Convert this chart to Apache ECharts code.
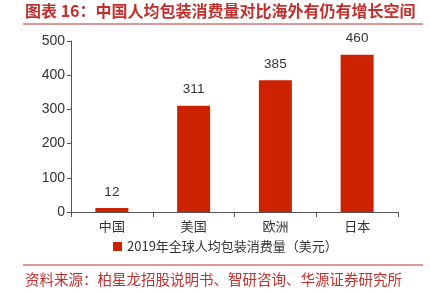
<!DOCTYPE html>
<html>
<head>
<meta charset="utf-8">
<script src="https://cdn.jsdelivr.net/npm/echarts@6/dist/echarts.min.js"></script>
<style>
  html, body { margin: 0; padding: 0; background: #fff; }
  #chart { width: 430px; height: 293px; }
</style>
</head>
<body>
<div id="chart"></div>
<script>
// 数据
const categories = ["中国", "美国", "欧洲", "日本"];
const values = [12, 311, 385, 460];
const seriesName = "2019年全球人均包装消费量（美元）";
const titleText = "图表 16：中国人均包装消费量对比海外有仍有增长空间";
const sourceText = "资料来源：柏星龙招股说明书、智研咨询、华源证券研究所";

const red = "#c0302f";
const barColor = "#cc2200";
const cjk = "'Noto Sans CJK SC', sans-serif";
const num = "Arial, 'Liberation Sans', sans-serif";

const chart = echarts.init(document.getElementById("chart"));

const option = {
  animation: false,
  backgroundColor: "#fff",
  graphic: [
    {
      type: "text",
      left: 25,
      top: 3,
      style: { text: titleText, fill: red, font: "bold 16px " + cjk }
    },
    {
      type: "line",
      shape: { x1: 23, y1: 24, x2: 423, y2: 24 },
      style: { stroke: red, lineWidth: 1.2 }
    },
    {
      type: "line",
      shape: { x1: 23, y1: 265, x2: 423, y2: 265 },
      style: { stroke: red, lineWidth: 1.2 }
    },
    {
      type: "text",
      left: 25,
      top: 272,
      style: { text: sourceText, fill: red, font: "14.5px " + cjk }
    }
  ],
  grid: { left: 71, right: 32, top: 41, bottom: 81 },
  legend: {
    data: [seriesName],
    left: 108,
    top: 235,
    itemWidth: 9,
    itemHeight: 9,
    itemGap: 5,
    icon: "rect",
    textStyle: { color: "#333", fontSize: 13, fontFamily: cjk }
  },
  xAxis: {
    type: "category",
    data: categories,
    axisLine: { lineStyle: { color: "#555" } },
    axisTick: { show: true, length: 5, lineStyle: { color: "#555" } },
    axisLabel: { color: "#333", fontSize: 13, fontFamily: cjk, margin: 8 }
  },
  yAxis: {
    type: "value",
    min: 0,
    max: 500,
    interval: 100,
    axisLine: { show: true, lineStyle: { color: "#555" } },
    axisTick: { show: true, length: 4, lineStyle: { color: "#555" } },
    splitLine: { show: false },
    axisLabel: { color: "#333", fontSize: 14, fontFamily: num, margin: 6 }
  },
  series: [
    {
      name: seriesName,
      type: "bar",
      data: values,
      barWidth: 33,
      itemStyle: { color: barColor },
      label: {
        show: true,
        position: "top",
        distance: 9,
        color: "#333",
        fontSize: 13.5,
        fontFamily: num
      }
    }
  ]
};

chart.setOption(option);
</script>
</body>
</html>
